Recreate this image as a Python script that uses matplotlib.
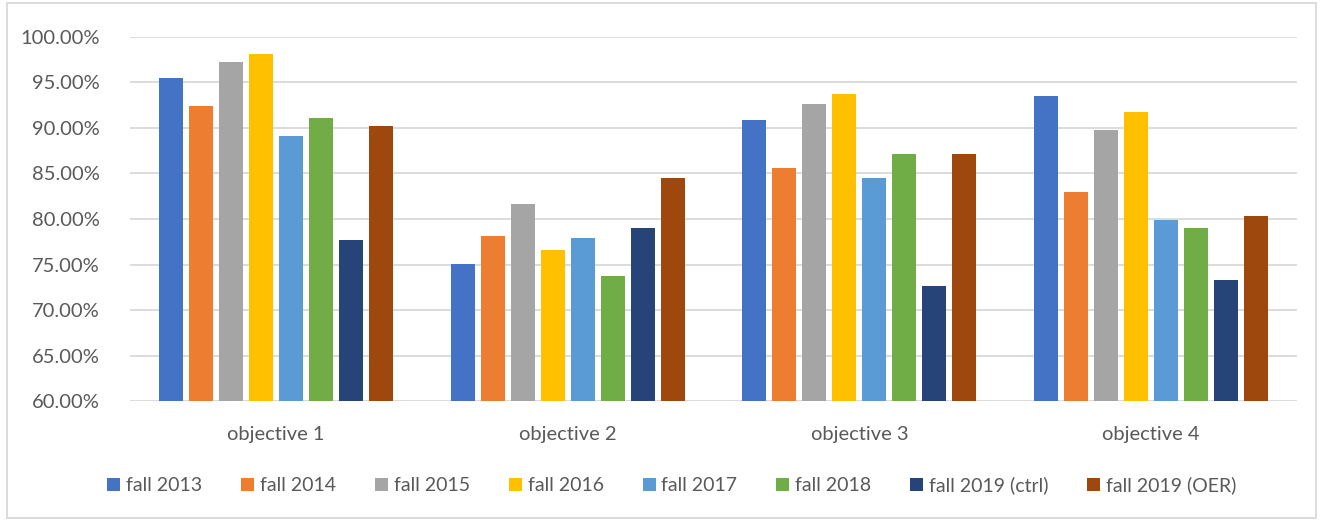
import matplotlib

matplotlib.use("Agg")
import matplotlib.pyplot as plt  # noqa: E402
import numpy as np  # noqa: E402
from matplotlib.patches import Rectangle  # noqa: E402
from matplotlib.ticker import FuncFormatter  # noqa: E402

plt.rcParams["font.family"] = ["Lato", "DejaVu Sans"]

categories = ["objective 1", "objective 2", "objective 3", "objective 4"]
series = ["fall 2013", "fall 2014", "fall 2015", "fall 2016",
          "fall 2017", "fall 2018", "fall 2019 (ctrl)", "fall 2019 (OER)"]
fall_2013 = [95.46, 75.02, 90.84, 93.48]
fall_2014 = [92.38, 78.10, 85.57, 82.93]
fall_2015 = [97.22, 81.61, 92.60, 89.74]
fall_2016 = [98.10, 76.56, 93.70, 91.72]
fall_2017 = [89.08, 77.88, 84.47, 79.85]
fall_2018 = [91.06, 73.70, 87.11, 78.97]
fall_2019_ctrl = [77.66, 78.97, 72.60, 73.26]
fall_2019_oer = [90.18, 84.47, 87.11, 80.29]
values = [fall_2013, fall_2014, fall_2015, fall_2016,
          fall_2017, fall_2018, fall_2019_ctrl, fall_2019_oer]
colors = ["#4472C4", "#ED7D31", "#A5A5A5", "#FFC000",
          "#5B9BD5", "#70AD47", "#264478", "#9E480E"]

TEXT = "#595959"
GRID = "#D9D9D9"

fig = plt.figure(figsize=(13.23, 5.21), dpi=100)
ax = fig.add_axes([0.0983, 0.2303, 0.882, 0.6987])

x = np.arange(len(categories))
step = 0.1028
width = 0.082
for i, (name, vals, c) in enumerate(zip(series, values, colors)):
    offs = (i - (len(series) - 1) / 2) * step
    ax.bar(x + offs, vals, width=width, color=c, label=name, zorder=3)

ax.set_xlim(-0.5, len(categories) - 0.5)
ax.set_ylim(60, 100)
ax.set_yticks(np.arange(60, 100.1, 5))
ax.yaxis.set_major_formatter(FuncFormatter(lambda v, _: f"{v:.2f}%"))
ax.set_xticks(x)
ax.set_xticklabels(categories)
ax.grid(axis="y", color=GRID, linewidth=1.3, zorder=0)
for s in ax.spines.values():
    s.set_visible(False)
ax.tick_params(length=0, colors=TEXT, labelsize=14.5)
ax.tick_params(axis="x", pad=18)
ax.tick_params(axis="y", pad=22)

fig.legend(loc="center", bbox_to_anchor=(672 / 1323, 1 - 485 / 521),
           ncol=8, frameon=False, fontsize=14, labelcolor=TEXT,
           handlelength=0.67, handleheight=0.67, handletextpad=0.3,
           columnspacing=2.0)

fig.patches.append(Rectangle((0.005, 0.005), 0.99, 0.99, transform=fig.transFigure,
                             fill=False, edgecolor=GRID, linewidth=1.3))

fig.savefig("out.png", dpi=100)
